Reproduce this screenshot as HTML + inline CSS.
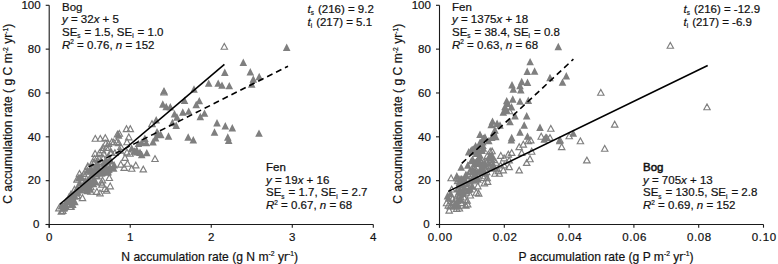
<!DOCTYPE html>
<html><head><meta charset="utf-8"><style>html,body{margin:0;padding:0;background:#fff;width:778px;height:264px;overflow:hidden}svg{display:block}text{font-family:"Liberation Sans",sans-serif}</style></head>
<body><svg width="778" height="264" viewBox="0 0 778 264" font-family="Liberation Sans, sans-serif" font-size="11.5" fill="#111" stroke="#111" stroke-width="0.2">
<path d="M221.1 49.2L224.3 43.4L227.5 49.2Z M160.8 94.9L164.0 89.1L167.2 94.9Z M148.8 126.6L152.0 120.8L155.2 126.6Z M123.8 154.9L127.0 149.1L130.2 154.9Z M127.1 131.6L130.3 125.8L133.5 131.6Z M125.6 139.8L128.8 133.9L132.0 139.8Z M123.8 144.7L127.0 138.8L130.2 144.7Z M110.5 144.9L113.7 139.1L116.9 144.9Z M115.5 145.6L118.7 139.8L121.9 145.6Z M117.7 149.5L120.9 143.7L124.1 149.5Z M92.1 141.2L95.3 135.4L98.5 141.2Z M97.1 141.2L100.3 135.4L103.5 141.2Z M102.1 140.4L105.3 134.6L108.5 140.4Z M108.6 144.6L111.8 138.8L115.0 144.6Z M99.6 150.4L102.8 144.6L106.0 150.4Z M105.5 150.4L108.7 144.6L111.9 150.4Z M151.8 161.5L155.0 155.7L158.2 161.5Z M140.1 171.9L143.3 166.1L146.5 171.9Z M132.6 167.9L135.8 162.1L139.0 167.9Z M128.5 171.2L131.7 165.4L134.9 171.2Z M124.3 166.2L127.5 160.4L130.7 166.2Z M121.8 160.4L125.0 154.6L128.2 160.4Z M121.0 170.4L124.2 164.6L127.4 170.4Z M117.6 167.1L120.8 161.3L124.0 167.1Z M126.8 156.2L130.0 150.4L133.2 156.2Z M103.5 150.4L106.7 144.6L109.9 150.4Z M113.5 144.6L116.7 138.8L119.9 144.6Z M106.1 180.5L109.3 174.7L112.5 180.5Z M99.3 182.9L102.5 177.1L105.7 182.9Z M99.3 152.9L102.5 147.1L105.7 152.9Z M98.2 185.1L101.5 179.3L104.7 185.1Z M107.0 188.8L110.2 183.0L113.4 188.8Z M101.5 191.3L104.8 185.5L108.0 191.3Z M103.5 193.1L106.7 187.3L109.9 193.1Z M93.7 194.3L96.9 188.5L100.1 194.3Z M96.8 195.8L100.0 189.9L103.2 195.8Z M90.1 183.9L93.3 178.1L96.5 183.9Z M87.6 189.7L90.8 183.9L94.0 189.7Z M76.3 176.2L79.5 170.4L82.7 176.2Z M73.8 182.1L77.0 176.3L80.2 182.1Z M71.3 192.1L74.5 186.3L77.7 192.1Z M84.6 168.7L87.8 162.9L91.0 168.7Z M89.6 164.6L92.8 158.8L96.0 164.6Z M96.3 155.4L99.5 149.6L102.7 155.4Z M100.5 156.2L103.7 150.4L106.9 156.2Z M107.1 155.4L110.3 149.6L113.5 155.4Z M98.8 187.1L102.0 181.3L105.2 187.1Z M58.2 214.1L61.4 208.3L64.6 214.1Z M55.7 210.9L58.9 205.1L62.1 210.9Z M73.8 198.5L77.0 192.7L80.2 198.5Z M87.6 194.2L90.8 188.4L94.0 194.2Z M93.6 178.5L96.8 172.7L100.0 178.5Z M88.5 170.5L91.7 164.7L94.9 170.5Z M79.8 183.2L83.0 177.4L86.2 183.2Z M80.6 176.4L83.8 170.6L87.0 176.4Z M81.8 179.1L85.0 173.3L88.2 179.1Z M85.3 192.2L88.5 186.4L91.7 192.2Z M93.9 171.7L97.1 165.9L100.3 171.7Z M81.6 190.5L84.8 184.7L88.0 190.5Z M95.4 170.9L98.6 165.1L101.8 170.9Z M84.0 189.9L87.2 184.1L90.4 189.9Z M90.9 166.0L94.1 160.2L97.3 166.0Z M98.0 165.1L101.2 159.3L104.4 165.1Z M92.7 176.6L95.9 170.8L99.1 176.6Z M67.9 209.2L71.1 203.4L74.3 209.2Z M104.3 175.1L107.5 169.3L110.7 175.1Z M67.0 209.5L70.2 203.7L73.4 209.5Z M79.3 200.6L82.5 194.8L85.7 200.6Z M59.6 213.4L62.8 207.6L66.0 213.4Z M102.0 170.4L105.2 164.6L108.4 170.4Z M82.2 174.1L85.4 168.3L88.6 174.1Z M93.1 179.0L96.3 173.2L99.5 179.0Z M105.5 168.8L108.7 163.0L111.9 168.8Z M88.7 183.1L91.9 177.3L95.1 183.1Z M84.7 169.7L87.9 163.9L91.1 169.7Z M90.0 184.6L93.2 178.8L96.4 184.6Z M108.3 155.2L111.5 149.4L114.7 155.2Z M116.1 136.2L119.3 130.4L122.5 136.2Z M100.0 160.9L103.2 155.1L106.4 160.9Z M117.1 153.2L120.3 147.4L123.5 153.2Z M111.7 155.4L114.9 149.6L118.1 155.4Z M95.5 164.4L98.7 158.6L101.9 164.4Z M91.2 161.2L94.4 155.4L97.6 161.2Z M91.9 156.3L95.1 150.5L98.3 156.3Z M102.6 145.9L105.8 140.1L109.0 145.9Z M123.3 131.6L126.5 125.8L129.7 131.6Z M91.3 164.8L94.5 159.0L97.7 164.8Z M114.3 137.0L117.5 131.2L120.7 137.0Z M95.8 161.1L99.0 155.3L102.2 161.1Z M105.2 146.4L108.4 140.6L111.6 146.4Z M597.6 95.2L600.8 89.4L604.0 95.2Z M667.1 48.2L670.3 42.4L673.5 48.2Z M703.8 109.7L707.0 103.9L710.2 109.7Z M611.5 127.1L614.7 121.3L617.9 127.1Z M601.5 151.2L604.7 145.4L607.9 151.2Z M583.6 162.9L586.9 157.1L590.1 162.9Z M577.2 143.7L580.4 137.9L583.6 143.7Z M525.1 143.7L528.3 137.9L531.5 143.7Z M516.0 149.6L519.2 143.8L522.4 149.6Z M520.1 147.1L523.3 141.3L526.5 147.1Z M528.5 154.2L531.7 148.3L534.9 154.2Z M518.5 155.4L521.7 149.6L524.9 155.4Z M526.8 161.7L530.0 155.8L533.2 161.7Z M523.5 165.4L526.7 159.6L529.9 165.4Z M508.5 155.4L511.7 149.6L514.9 155.4Z M505.1 157.1L508.3 151.3L511.5 157.1Z M497.6 158.3L500.8 152.5L504.0 158.3Z M500.9 160.8L504.1 155.0L507.3 160.8Z M506.0 162.9L509.2 157.1L512.4 162.9Z M487.0 154.2L490.2 148.3L493.4 154.2Z M488.5 158.3L491.7 152.5L494.9 158.3Z M501.0 167.9L504.2 162.1L507.4 167.9Z M506.0 169.6L509.2 163.8L512.4 169.6Z M516.0 172.9L519.2 167.1L522.4 172.9Z M488.5 166.2L491.7 160.4L494.9 166.2Z M485.9 168.3L489.1 162.5L492.3 168.3Z M495.1 173.7L498.3 167.9L501.5 173.7Z M467.6 153.9L470.8 148.1L474.0 153.9Z M472.2 154.3L475.4 148.5L478.6 154.3Z M547.6 131.2L550.8 125.4L554.0 131.2Z M538.0 139.2L541.2 133.3L544.5 139.2Z M543.5 140.4L546.7 134.6L549.9 140.4Z M546.8 140.4L550.0 134.6L553.2 140.4Z M566.0 138.7L569.2 132.9L572.4 138.7Z M556.8 142.9L560.0 137.1L563.2 142.9Z M527.6 142.9L530.8 137.1L534.0 142.9Z M558.5 149.6L561.7 143.8L564.9 149.6Z M447.9 180.7L451.1 174.9L454.2 180.7Z M490.1 167.9L493.3 162.1L496.5 167.9Z M491.8 176.2L495.0 170.4L498.2 176.2Z M496.0 176.2L499.2 170.4L502.4 176.2Z M500.1 172.9L503.3 167.1L506.5 172.9Z M483.5 174.6L486.7 168.8L489.9 174.6Z M456.8 182.1L460.0 176.3L463.2 182.1Z M506.3 113.7L509.5 107.9L512.7 113.7Z M446.0 213.1L449.2 207.3L452.4 213.1Z M462.6 208.1L465.8 202.3L469.0 208.1Z M445.1 208.1L448.3 202.3L451.5 208.1Z M454.3 180.9L457.5 175.1L460.7 180.9Z M481.1 166.9L484.3 161.1L487.5 166.9Z M469.6 170.3L472.8 164.5L476.0 170.3Z M453.5 211.3L456.7 205.5L459.9 211.3Z M482.8 165.1L486.0 159.3L489.2 165.1Z M458.3 192.4L461.5 186.6L464.7 192.4Z M486.8 158.4L490.0 152.6L493.2 158.4Z M473.1 195.2L476.3 189.4L479.5 195.2Z M470.2 171.8L473.4 166.0L476.6 171.8Z M468.2 179.0L471.4 173.2L474.6 179.0Z M472.7 180.1L475.9 174.3L479.1 180.1Z M456.8 186.6L460.0 180.8L463.2 186.6Z M466.4 174.5L469.6 168.7L472.8 174.5Z M492.7 165.2L495.9 159.4L499.1 165.2Z M474.4 170.3L477.6 164.5L480.8 170.3Z M460.6 200.0L463.8 194.2L467.0 200.0Z M458.8 188.1L462.0 182.3L465.2 188.1Z M488.0 159.3L491.2 153.5L494.4 159.3Z M482.0 175.8L485.2 170.0L488.4 175.8Z M476.6 162.3L479.8 156.5L483.0 162.3Z M481.5 178.7L484.7 172.9L487.9 178.7Z M455.2 208.9L458.4 203.1L461.6 208.9Z M484.4 184.3L487.6 178.5L490.8 184.3Z M454.4 207.7L457.6 201.9L460.8 207.7Z M453.3 207.9L456.5 202.1L459.7 207.9Z M459.6 194.3L462.8 188.5L466.0 194.3Z M475.5 196.1L478.7 190.3L481.9 196.1Z M456.2 211.0L459.4 205.2L462.6 211.0Z M487.7 160.9L490.9 155.1L494.1 160.9Z M474.6 188.8L477.8 183.0L481.0 188.8Z M488.9 153.7L492.1 147.9L495.3 153.7Z M486.6 160.2L489.8 154.4L493.0 160.2Z M486.7 165.6L489.9 159.8L493.1 165.6Z M476.4 173.7L479.6 167.9L482.8 173.7Z M466.4 186.1L469.6 180.3L472.8 186.1Z M472.5 183.7L475.7 177.9L478.9 183.7Z M481.2 185.8L484.4 180.0L487.6 185.8Z M443.3 205.7L446.5 199.9L449.7 205.7Z M484.2 158.3L487.4 152.5L490.6 158.3Z M470.0 176.9L473.2 171.1L476.4 176.9Z M482.2 172.5L485.4 166.7L488.6 172.5Z M454.5 183.6L457.7 177.8L460.9 183.6Z M448.5 192.0L451.7 186.2L454.9 192.0Z M464.5 206.9L467.7 201.1L470.9 206.9Z M486.9 165.2L490.1 159.4L493.3 165.2Z M457.9 205.6L461.1 199.8L464.3 205.6Z M463.9 203.2L467.1 197.4L470.3 203.2Z M451.2 208.0L454.4 202.2L457.6 208.0Z M467.5 174.2L470.7 168.4L473.9 174.2Z M458.4 187.2L461.6 181.4L464.8 187.2Z M467.1 198.0L470.3 192.2L473.5 198.0Z M474.6 178.1L477.8 172.3L481.0 178.1Z M460.8 183.0L464.0 177.2L467.2 183.0Z M463.2 195.1L466.4 189.3L469.6 195.1Z M470.3 179.8L473.5 174.0L476.7 179.8Z M471.3 179.0L474.5 173.2L477.7 179.0Z M465.6 178.6L468.8 172.8L472.0 178.6Z M452.4 208.7L455.6 202.9L458.8 208.7Z M455.4 196.2L458.6 190.4L461.8 196.2Z M456.6 185.4L459.8 179.6L463.0 185.4Z M455.9 191.7L459.1 185.9L462.3 191.7Z M457.5 195.3L460.7 189.5L463.9 195.3Z M451.6 209.2L454.8 203.4L458.0 209.2Z M452.1 201.9L455.3 196.1L458.5 201.9Z M456.8 187.0L460.0 181.2L463.2 187.0Z M449.3 201.6L452.5 195.8L455.7 201.6Z M447.0 208.9L450.2 203.1L453.4 208.9Z M463.2 185.5L466.4 179.7L469.6 185.5Z M458.8 182.7L462.0 176.9L465.2 182.7Z M460.4 189.5L463.6 183.7L466.8 189.5Z M447.6 207.8L450.8 202.0L454.0 207.8Z M472.6 178.7L475.8 172.9L479.0 178.7Z M450.6 205.2L453.8 199.4L457.0 205.2Z M455.2 190.7L458.4 184.9L461.6 190.7Z M461.1 184.7L464.3 178.9L467.5 184.7Z M461.8 186.4L465.0 180.6L468.2 186.4Z M457.4 203.0L460.6 197.2L463.8 203.0Z M457.4 200.0L460.6 194.2L463.8 200.0Z M454.8 191.9L458.0 186.1L461.2 191.9Z M453.8 198.8L457.0 193.0L460.2 198.8Z M456.9 197.7L460.1 191.9L463.3 197.7Z M462.4 193.5L465.6 187.7L468.8 193.5Z M451.1 204.9L454.3 199.1L457.5 204.9Z M480.8 164.5L484.0 158.7L487.2 164.5Z M491.0 162.6L494.2 156.8L497.4 162.6Z M487.4 169.7L490.6 163.9L493.8 169.7Z M472.6 173.1L475.8 167.3L479.0 173.1Z M472.0 171.3L475.2 165.5L478.4 171.3Z M484.0 180.7L487.2 174.9L490.4 180.7Z M474.6 166.3L477.8 160.5L481.0 166.3Z M488.7 170.4L491.9 164.6L495.1 170.4Z M497.4 167.9L500.6 162.1L503.8 167.9Z M480.4 180.5L483.6 174.7L486.8 180.5Z M476.4 174.9L479.6 169.1L482.8 174.9Z M490.6 169.8L493.8 164.0L497.0 169.8Z M487.8 162.4L491.0 156.6L494.2 162.4Z M472.6 165.8L475.8 160.0L479.0 165.8Z M491.9 171.2L495.1 165.4L498.3 171.2Z" fill="none" stroke="#7f7f7f" stroke-width="1.15"/>
<path d="M282.9 51.0L286.7 43.6L290.5 51.0Z M239.5 66.0L243.3 58.6L247.1 66.0Z M221.0 76.0L224.8 68.6L228.6 76.0Z M204.9 86.8L208.7 79.4L212.5 86.8Z M214.4 86.8L218.2 79.4L222.0 86.8Z M218.2 88.8L222.0 81.4L225.8 88.8Z M225.5 89.3L229.3 81.9L233.1 89.3Z M190.2 92.7L194.0 85.3L197.8 92.7Z M195.5 104.3L199.3 96.9L203.1 104.3Z M246.5 75.5L250.3 68.1L254.1 75.5Z M255.4 80.2L259.2 72.8L263.0 80.2Z M249.5 82.7L253.3 75.3L257.1 82.7Z M247.9 87.7L251.7 80.3L255.5 87.7Z M180.7 104.0L184.5 96.6L188.3 104.0Z M192.4 108.2L196.2 100.8L200.0 108.2Z M179.0 115.7L182.8 108.3L186.6 115.7Z M184.9 114.8L188.7 107.4L192.5 114.8Z M200.7 116.8L204.5 109.4L208.3 116.8Z M196.5 120.2L200.3 112.8L204.1 120.2Z M170.7 117.5L174.5 110.1L178.3 117.5Z M173.2 120.7L177.0 113.3L180.8 120.7Z M172.4 129.0L176.2 121.6L180.0 129.0Z M168.6 126.2L172.4 118.8L176.2 126.2Z M213.2 126.5L217.0 119.1L220.8 126.5Z M221.5 129.5L225.3 122.1L229.1 129.5Z M228.5 131.5L232.3 124.1L236.1 131.5Z M210.7 135.7L214.5 128.3L218.3 135.7Z M184.3 140.7L188.2 133.3L192.0 140.7Z M189.5 143.4L193.3 136.0L197.1 143.4Z M224.0 140.7L227.8 133.3L231.6 140.7Z M224.9 144.0L228.7 136.6L232.5 144.0Z M255.2 136.8L259.0 129.4L262.8 136.8Z M160.2 94.3L164.0 86.9L167.8 94.3Z M159.0 107.7L162.8 100.3L166.6 107.7Z M162.4 110.2L166.2 102.8L170.0 110.2Z M166.5 110.5L170.3 103.1L174.1 110.5Z M152.4 123.5L156.2 116.1L160.0 123.5Z M114.9 138.8L118.7 131.4L122.5 138.8Z M153.2 135.5L157.0 128.1L160.8 135.5Z M154.7 137.7L158.5 130.2L162.3 137.7Z M164.7 139.8L168.5 132.3L172.3 139.8Z M134.7 147.1L138.5 139.7L142.3 147.1Z M142.4 146.3L146.2 138.9L150.0 146.3Z M141.1 142.0L144.9 134.6L148.7 142.0Z M149.2 145.5L153.0 138.1L156.8 145.5Z M151.8 141.4L155.6 134.0L159.4 141.4Z M130.7 154.7L134.5 147.3L138.3 154.7Z M133.2 155.5L137.0 148.1L140.8 155.5Z M143.0 156.3L146.8 148.9L150.6 156.3Z M136.2 156.0L140.0 148.6L143.8 156.0Z M132.9 153.5L136.7 146.1L140.5 153.5Z M127.9 151.8L131.7 144.4L135.5 151.8Z M137.9 146.0L141.7 138.6L145.5 146.0Z M157.0 138.2L160.8 130.8L164.6 138.2Z M137.9 158.2L141.7 150.8L145.5 158.2Z M109.9 171.8L113.7 164.4L117.5 171.8Z M103.2 175.2L107.0 167.8L110.8 175.2Z M62.0 208.3L65.8 200.9L69.6 208.3Z M98.5 176.3L102.3 168.9L106.1 176.3Z M82.9 186.8L86.7 179.4L90.5 186.8Z M106.5 164.2L110.3 156.8L114.1 164.2Z M79.6 189.3L83.4 181.9L87.2 189.3Z M91.5 172.5L95.3 165.1L99.1 172.5Z M71.8 194.2L75.6 186.8L79.4 194.2Z M83.5 194.3L87.3 186.9L91.1 194.3Z M75.9 186.2L79.7 178.8L83.5 186.2Z M84.4 183.7L88.2 176.3L92.0 183.7Z M104.1 175.0L107.9 167.6L111.7 175.0Z M87.7 187.3L91.5 179.9L95.3 187.3Z M86.8 185.5L90.6 178.1L94.4 185.5Z M57.5 209.5L61.3 202.1L65.1 209.5Z M87.3 173.3L91.1 165.9L94.9 173.3Z M83.5 188.7L87.3 181.3L91.1 188.7Z M74.9 181.2L78.7 173.8L82.5 181.2Z M89.7 187.2L93.5 179.8L97.3 187.2Z M69.0 208.0L72.8 200.6L76.6 208.0Z M93.2 167.0L97.0 159.6L100.8 167.0Z M98.0 176.0L101.8 168.6L105.6 176.0Z M60.5 211.1L64.3 203.7L68.1 211.1Z M83.8 173.8L87.6 166.4L91.4 173.8Z M77.1 193.6L80.9 186.2L84.7 193.6Z M72.8 196.6L76.6 189.2L80.4 196.6Z M105.2 164.5L109.0 157.1L112.8 164.5Z M87.3 171.8L91.1 164.4L94.9 171.8Z M76.1 181.2L79.9 173.8L83.7 181.2Z M106.4 163.5L110.2 156.1L114.0 163.5Z M67.8 201.7L71.6 194.3L75.4 201.7Z M58.4 209.3L62.2 201.9L66.0 209.3Z M74.0 195.7L77.8 188.3L81.6 195.7Z M87.3 174.6L91.1 167.2L94.9 174.6Z M70.3 205.0L74.1 197.6L77.9 205.0Z M102.2 163.2L106.0 155.8L109.8 163.2Z M93.1 167.5L96.9 160.1L100.7 167.5Z M60.9 210.3L64.7 202.9L68.5 210.3Z M68.2 202.7L72.0 195.3L75.8 202.7Z M60.2 211.7L64.0 204.3L67.8 211.7Z M88.8 186.8L92.6 179.4L96.4 186.8Z M110.4 168.5L114.2 161.1L118.0 168.5Z M73.6 191.9L77.4 184.5L81.2 191.9Z M71.1 205.3L74.9 197.9L78.7 205.3Z M100.3 166.7L104.1 159.3L107.9 166.7Z M106.0 170.2L109.8 162.8L113.6 170.2Z M107.0 164.2L110.8 156.8L114.6 164.2Z M94.2 172.1L98.0 164.7L101.8 172.1Z M86.1 191.7L89.9 184.3L93.7 191.7Z M77.2 180.8L81.0 173.4L84.8 180.8Z M91.7 185.0L95.5 177.6L99.3 185.0Z M81.8 190.1L85.6 182.7L89.4 190.1Z M99.1 172.1L102.9 164.7L106.7 172.1Z M84.0 188.3L87.8 180.9L91.6 188.3Z M71.3 199.7L75.1 192.3L78.9 199.7Z M90.0 185.1L93.8 177.7L97.6 185.1Z M66.5 201.7L70.3 194.3L74.1 201.7Z M69.6 205.1L73.4 197.7L77.2 205.1Z M87.7 177.9L91.5 170.5L95.3 177.9Z M104.4 173.2L108.2 165.8L112.0 173.2Z M89.8 183.1L93.6 175.7L97.4 183.1Z M67.1 197.5L70.9 190.1L74.7 197.5Z M81.5 184.1L85.3 176.7L89.1 184.1Z M69.8 197.8L73.6 190.4L77.4 197.8Z M65.1 205.2L68.9 197.8L72.7 205.2Z M83.1 192.4L86.9 185.0L90.7 192.4Z M84.8 188.2L88.6 180.8L92.4 188.2Z M84.2 189.1L88.0 181.7L91.8 189.1Z M80.2 188.1L84.0 180.7L87.8 188.1Z M105.2 172.8L109.0 165.4L112.8 172.8Z M97.4 176.8L101.2 169.4L105.0 176.8Z M74.5 193.1L78.3 185.7L82.1 193.1Z M72.5 193.0L76.3 185.6L80.1 193.0Z M92.7 177.5L96.5 170.1L100.3 177.5Z M95.7 174.4L99.5 167.0L103.3 174.4Z M102.8 173.3L106.6 165.9L110.4 173.3Z M62.4 204.6L66.2 197.2L70.0 204.6Z M98.6 172.6L102.4 165.2L106.2 172.6Z M100.8 169.6L104.6 162.2L108.4 169.6Z M67.8 204.6L71.6 197.2L75.4 204.6Z M92.3 176.2L96.1 168.8L99.9 176.2Z M66.5 202.2L70.3 194.8L74.1 202.2Z M102.5 172.5L106.3 165.1L110.1 172.5Z M67.1 200.5L70.9 193.1L74.7 200.5Z M65.3 199.9L69.1 192.5L72.9 199.9Z M92.5 174.9L96.3 167.5L100.1 174.9Z M526.4 65.3L530.1 57.9L533.9 65.3Z M523.5 74.9L527.2 67.5L531.0 74.9Z M530.8 74.8L534.6 67.3L538.4 74.8Z M508.2 88.5L512.0 81.1L515.8 88.5Z M509.5 92.7L513.3 85.3L517.1 92.7Z M517.9 85.2L521.7 77.8L525.5 85.2Z M516.2 89.3L520.0 81.9L523.8 89.3Z M523.7 86.0L527.5 78.6L531.3 86.0Z M517.0 93.5L520.8 86.1L524.6 93.5Z M502.9 104.3L506.7 96.9L510.5 104.3Z M508.9 102.8L512.8 95.3L516.5 102.8Z M516.2 104.8L520.0 97.4L523.8 104.8Z M524.5 104.0L528.3 96.6L532.1 104.0Z M554.5 50.2L558.3 42.8L562.1 50.2Z M546.2 81.2L550.0 73.8L553.8 81.2Z M562.5 79.5L566.3 72.1L570.1 79.5Z M558.7 85.8L562.5 78.4L566.3 85.8Z M503.7 107.0L507.5 99.6L511.3 107.0Z M501.2 110.3L505.0 102.9L508.8 110.3Z M502.9 113.7L506.7 106.3L510.5 113.7Z M499.5 115.7L503.3 108.2L507.1 115.7Z M511.2 119.5L515.0 112.1L518.8 119.5Z M522.9 119.5L526.7 112.1L530.5 119.5Z M488.7 124.8L492.5 117.4L496.3 124.8Z M487.4 128.2L491.2 120.8L495.1 128.2Z M493.3 126.9L497.1 119.5L500.9 126.9Z M496.2 128.7L500.0 121.3L503.8 128.7Z M506.2 125.3L510.0 117.9L513.8 125.3Z M520.4 128.7L524.2 121.3L528.0 128.7Z M516.2 135.7L520.0 128.2L523.8 135.7Z M491.2 133.7L495.0 126.3L498.8 133.7Z M489.5 139.5L493.3 132.1L497.1 139.5Z M476.2 137.9L480.0 130.5L483.8 137.9Z M481.2 140.7L485.0 133.2L488.8 140.7Z M523.7 139.8L527.5 132.4L531.3 139.8Z M507.9 141.2L511.7 133.8L515.5 141.2Z M507.5 143.5L511.3 136.1L515.1 143.5Z M489.9 135.6L493.8 128.2L497.6 135.6Z M487.9 141.0L491.7 133.6L495.5 141.0Z M484.9 144.3L488.8 136.9L492.6 144.3Z M476.2 148.5L480.0 141.1L483.8 148.5Z M479.5 151.8L483.3 144.4L487.1 151.8Z M474.5 155.2L478.3 147.8L482.1 155.2Z M536.2 131.0L540.0 123.6L543.8 131.0Z M569.5 136.8L573.3 129.4L577.1 136.8Z M542.0 141.0L545.8 133.6L549.6 141.0Z M555.8 144.3L559.6 136.9L563.4 144.3Z M540.4 142.7L544.2 135.3L548.0 142.7Z M479.5 141.8L483.3 134.4L487.1 141.8Z M492.0 140.2L495.8 132.8L499.6 140.2Z M476.2 146.0L480.0 138.6L483.8 146.0Z M473.7 151.0L477.5 143.6L481.3 151.0Z M507.7 110.5L511.5 103.1L515.3 110.5Z M453.0 179.5L456.8 172.1L460.6 179.5Z M458.4 183.6L462.2 176.2L466.0 183.6Z M443.7 199.4L447.5 192.0L451.3 199.4Z M477.5 174.9L481.3 167.5L485.1 174.9Z M469.4 152.7L473.2 145.3L477.0 152.7Z M464.7 192.9L468.5 185.5L472.3 192.9Z M474.3 182.7L478.1 175.3L481.9 182.7Z M478.7 174.6L482.5 167.2L486.3 174.6Z M459.4 197.0L463.2 189.6L467.0 197.0Z M479.2 149.1L483.0 141.7L486.8 149.1Z M468.9 163.0L472.7 155.6L476.5 163.0Z M464.0 168.7L467.8 161.3L471.6 168.7Z M457.6 182.3L461.4 174.9L465.2 182.3Z M470.7 153.6L474.5 146.2L478.3 153.6Z M472.5 156.9L476.3 149.5L480.1 156.9Z M446.8 196.9L450.6 189.5L454.4 196.9Z M455.2 194.8L459.0 187.4L462.8 194.8Z M479.0 145.5L482.8 138.1L486.6 145.5Z M472.7 165.0L476.5 157.6L480.3 165.0Z M468.2 153.1L472.0 145.7L475.8 153.1Z M444.9 201.5L448.7 194.1L452.5 201.5Z M480.0 168.2L483.8 160.8L487.6 168.2Z M462.1 177.9L465.9 170.5L469.7 177.9Z M469.6 183.0L473.4 175.6L477.2 183.0Z M466.1 184.7L469.9 177.3L473.7 184.7Z M460.9 191.5L464.7 184.1L468.5 191.5Z M460.2 181.9L464.0 174.5L467.8 181.9Z M468.9 174.2L472.7 166.8L476.5 174.2Z M471.1 166.5L474.9 159.1L478.7 166.5Z M467.5 164.3L471.3 156.9L475.1 164.3Z M458.3 183.0L462.1 175.6L465.9 183.0Z M466.5 192.5L470.3 185.1L474.1 192.5Z M476.2 158.7L480.0 151.3L483.8 158.7Z M471.8 149.4L475.6 142.0L479.4 149.4Z M477.4 172.3L481.2 164.9L485.0 172.3Z M478.3 154.0L482.1 146.6L485.9 154.0Z M457.0 186.7L460.8 179.3L464.6 186.7Z M479.5 173.2L483.3 165.8L487.1 173.2Z M464.9 155.5L468.7 148.1L472.5 155.5Z M476.3 166.0L480.1 158.6L483.9 166.0Z M475.7 160.9L479.5 153.5L483.3 160.9Z M457.4 170.8L461.2 163.4L465.0 170.8Z M460.7 184.2L464.5 176.8L468.3 184.2Z M457.1 203.0L460.9 195.6L464.7 203.0Z M453.9 204.2L457.7 196.8L461.5 204.2Z M468.6 189.8L472.4 182.4L476.2 189.8Z" fill="#7f7f7f" stroke="none"/>
<line x1="49.2" y1="5.3" x2="49.2" y2="227.7" stroke="#1a1a1a" stroke-width="1.1"/>
<line x1="45.7" y1="224.5" x2="373.3" y2="224.5" stroke="#1a1a1a" stroke-width="1.1"/>
<line x1="45.7" y1="224.50" x2="49.2" y2="224.50" stroke="#1a1a1a" stroke-width="1.1"/>
<text x="39.40" y="228.20" text-anchor="end">0</text>
<line x1="45.7" y1="180.66" x2="49.2" y2="180.66" stroke="#1a1a1a" stroke-width="1.1"/>
<text x="40.60" y="184.36" text-anchor="end">20</text>
<line x1="45.7" y1="136.82" x2="49.2" y2="136.82" stroke="#1a1a1a" stroke-width="1.1"/>
<text x="40.60" y="140.52" text-anchor="end">40</text>
<line x1="45.7" y1="92.98" x2="49.2" y2="92.98" stroke="#1a1a1a" stroke-width="1.1"/>
<text x="40.60" y="96.68" text-anchor="end">60</text>
<line x1="45.7" y1="49.14" x2="49.2" y2="49.14" stroke="#1a1a1a" stroke-width="1.1"/>
<text x="40.60" y="52.84" text-anchor="end">80</text>
<line x1="45.7" y1="5.30" x2="49.2" y2="5.30" stroke="#1a1a1a" stroke-width="1.1"/>
<text x="40.60" y="9.00" text-anchor="end">100</text>
<line x1="49.20" y1="224.5" x2="49.20" y2="227.7" stroke="#1a1a1a" stroke-width="1.1"/>
<text x="49.10" y="241.1" text-anchor="middle">0</text>
<line x1="130.23" y1="224.5" x2="130.23" y2="227.7" stroke="#1a1a1a" stroke-width="1.1"/>
<text x="130.13" y="241.1" text-anchor="middle">1</text>
<line x1="211.25" y1="224.5" x2="211.25" y2="227.7" stroke="#1a1a1a" stroke-width="1.1"/>
<text x="211.15" y="241.1" text-anchor="middle">2</text>
<line x1="292.28" y1="224.5" x2="292.28" y2="227.7" stroke="#1a1a1a" stroke-width="1.1"/>
<text x="292.18" y="241.1" text-anchor="middle">3</text>
<line x1="373.30" y1="224.5" x2="373.30" y2="227.7" stroke="#1a1a1a" stroke-width="1.1"/>
<text x="373.20" y="241.1" text-anchor="middle">4</text>
<line x1="439.5" y1="5.3" x2="439.5" y2="227.7" stroke="#1a1a1a" stroke-width="1.1"/>
<line x1="436.0" y1="224.5" x2="763.5" y2="224.5" stroke="#1a1a1a" stroke-width="1.1"/>
<line x1="436.0" y1="224.50" x2="439.5" y2="224.50" stroke="#1a1a1a" stroke-width="1.1"/>
<text x="429.70" y="228.20" text-anchor="end">0</text>
<line x1="436.0" y1="180.66" x2="439.5" y2="180.66" stroke="#1a1a1a" stroke-width="1.1"/>
<text x="430.90" y="184.36" text-anchor="end">20</text>
<line x1="436.0" y1="136.82" x2="439.5" y2="136.82" stroke="#1a1a1a" stroke-width="1.1"/>
<text x="430.90" y="140.52" text-anchor="end">40</text>
<line x1="436.0" y1="92.98" x2="439.5" y2="92.98" stroke="#1a1a1a" stroke-width="1.1"/>
<text x="430.90" y="96.68" text-anchor="end">60</text>
<line x1="436.0" y1="49.14" x2="439.5" y2="49.14" stroke="#1a1a1a" stroke-width="1.1"/>
<text x="430.90" y="52.84" text-anchor="end">80</text>
<line x1="436.0" y1="5.30" x2="439.5" y2="5.30" stroke="#1a1a1a" stroke-width="1.1"/>
<text x="430.90" y="9.00" text-anchor="end">100</text>
<line x1="439.50" y1="224.5" x2="439.50" y2="227.7" stroke="#1a1a1a" stroke-width="1.1"/>
<text x="440.25" y="241.1" text-anchor="middle" letter-spacing="0.6">0.00</text>
<line x1="504.30" y1="224.5" x2="504.30" y2="227.7" stroke="#1a1a1a" stroke-width="1.1"/>
<text x="505.05" y="241.1" text-anchor="middle" letter-spacing="0.6">0.02</text>
<line x1="569.10" y1="224.5" x2="569.10" y2="227.7" stroke="#1a1a1a" stroke-width="1.1"/>
<text x="569.85" y="241.1" text-anchor="middle" letter-spacing="0.6">0.04</text>
<line x1="633.90" y1="224.5" x2="633.90" y2="227.7" stroke="#1a1a1a" stroke-width="1.1"/>
<text x="634.65" y="241.1" text-anchor="middle" letter-spacing="0.6">0.06</text>
<line x1="698.70" y1="224.5" x2="698.70" y2="227.7" stroke="#1a1a1a" stroke-width="1.1"/>
<text x="699.45" y="241.1" text-anchor="middle" letter-spacing="0.6">0.08</text>
<line x1="763.50" y1="224.5" x2="763.50" y2="227.7" stroke="#1a1a1a" stroke-width="1.1"/>
<text x="764.25" y="241.1" text-anchor="middle" letter-spacing="0.6">0.10</text>
<text x="121.3" y="260.6" font-size="12.1">N accumulation rate (g N m<tspan font-size="6.78" dy="-4.4">-2</tspan><tspan dy="4.4"> yr</tspan><tspan font-size="6.78" dy="-4.4">-1</tspan><tspan dy="4.4">)</tspan></text>
<text x="518.5" y="260.6" font-size="12.1">P accumulation rate (g P m<tspan font-size="6.78" dy="-4.4">-2</tspan><tspan dy="4.4"> yr</tspan><tspan font-size="6.78" dy="-4.4">-1</tspan><tspan dy="4.4">)</tspan></text>
<text transform="translate(12.3,203.8) rotate(-90)" x="0" y="0" font-size="12.1">C accumulation rate ( g C m<tspan font-size="6.78" dy="-4.4">-2</tspan><tspan dy="4.4"> yr</tspan><tspan font-size="6.78" dy="-4.4">-1</tspan><tspan dy="4.4">)</tspan></text>
<text transform="translate(402.3,203.8) rotate(-90)" x="0" y="0" font-size="12.1">C accumulation rate ( g C m<tspan font-size="6.78" dy="-4.4">-2</tspan><tspan dy="4.4"> yr</tspan><tspan font-size="6.78" dy="-4.4">-1</tspan><tspan dy="4.4">)</tspan></text>
<text x="62.0" y="10.50">Bog</text>
<text x="62.0" y="23.25"><tspan font-style="italic">y</tspan> = 32<tspan font-style="italic">x</tspan> + 5</text>
<text x="62.0" y="36.00">SE<tspan font-size="6.44" dy="2.4">s</tspan><tspan dy="-2.4" dx="0.8"> = 1.5, SE</tspan><tspan font-size="6.44" dy="2.4">i</tspan><tspan dy="-2.4" dx="0.8"> = 1.0</tspan></text>
<text x="62.0" y="48.75"><tspan font-style="italic">R</tspan><tspan font-size="6.44" dy="-4.4">2</tspan><tspan dy="4.4"> = 0.76, <tspan font-style="italic">n</tspan> = 152</tspan></text>
<text x="266.0" y="170.80"><tspan stroke="#111" stroke-width="0.25">Fen</tspan></text>
<text x="266.0" y="183.55"><tspan font-style="italic">y</tspan> = 19<tspan font-style="italic">x</tspan> + 16</text>
<text x="266.0" y="196.30">SE<tspan font-size="6.44" dy="2.4">s</tspan><tspan dy="-2.4" dx="0.8"> = 1.7, SE</tspan><tspan font-size="6.44" dy="2.4">i</tspan><tspan dy="-2.4" dx="0.8"> = 2.7</tspan></text>
<text x="266.0" y="209.05"><tspan font-style="italic">R</tspan><tspan font-size="6.44" dy="-4.4">2</tspan><tspan dy="4.4"> = 0.67, <tspan font-style="italic">n</tspan> = 68</tspan></text>
<text x="307.5" y="12.5"><tspan font-style="italic">t</tspan><tspan font-size="6.44" dy="2.4">s</tspan><tspan dy="-2.4" dx="0.8"> (216) = 9.2</tspan></text>
<text x="307.5" y="26.0"><tspan font-style="italic">t</tspan><tspan font-size="6.44" dy="2.4">i</tspan><tspan dy="-2.4" dx="0.8"> (217) = 5.1</tspan></text>
<text x="452.0" y="10.50">Fen</text>
<text x="452.0" y="23.25"><tspan font-style="italic">y</tspan> = 1375<tspan font-style="italic">x</tspan> + 18</text>
<text x="452.0" y="36.00">SE<tspan font-size="6.44" dy="2.4">s</tspan><tspan dy="-2.4" dx="0.8"> = 38.4, SE</tspan><tspan font-size="6.44" dy="2.4">i</tspan><tspan dy="-2.4" dx="0.8"> = 0.8</tspan></text>
<text x="452.0" y="48.75"><tspan font-style="italic">R</tspan><tspan font-size="6.44" dy="-4.4">2</tspan><tspan dy="4.4"> = 0.63, <tspan font-style="italic">n</tspan> = 68</tspan></text>
<text x="643.0" y="170.80"><tspan stroke="#111" stroke-width="0.5">Bog</tspan></text>
<text x="643.0" y="183.55"><tspan font-style="italic">y</tspan> = 705<tspan font-style="italic">x</tspan> + 13</text>
<text x="643.0" y="196.30">SE<tspan font-size="6.44" dy="2.4">s</tspan><tspan dy="-2.4" dx="0.8"> = 130.5, SE</tspan><tspan font-size="6.44" dy="2.4">i</tspan><tspan dy="-2.4" dx="0.8"> = 2.8</tspan></text>
<text x="643.0" y="209.05"><tspan font-style="italic">R</tspan><tspan font-size="6.44" dy="-4.4">2</tspan><tspan dy="4.4"> = 0.69, <tspan font-style="italic">n</tspan> = 152</tspan></text>
<text x="683.5" y="12.5"><tspan font-style="italic">t</tspan><tspan font-size="6.44" dy="2.4">s</tspan><tspan dy="-2.4" dx="0.8"> (216) = -12.9</tspan></text>
<text x="683.5" y="26.0"><tspan font-style="italic">t</tspan><tspan font-size="6.44" dy="2.4">i</tspan><tspan dy="-2.4" dx="0.8"> (217) = -6.9</tspan></text>
<line x1="59.5" y1="204.5" x2="224.4" y2="64.4" stroke="#000" stroke-width="1.6"/>
<line x1="86" y1="168.2" x2="288" y2="66.2" stroke="#000" stroke-width="1.6" stroke-dasharray="6 4" stroke-dashoffset="-2.9"/>
<line x1="448.3" y1="191.4" x2="707.7" y2="65.5" stroke="#000" stroke-width="1.6"/>
<line x1="460" y1="165" x2="573.4" y2="59.2" stroke="#000" stroke-width="1.6" stroke-dasharray="6 4" stroke-dashoffset="-2.4"/>
</svg></body></html>
